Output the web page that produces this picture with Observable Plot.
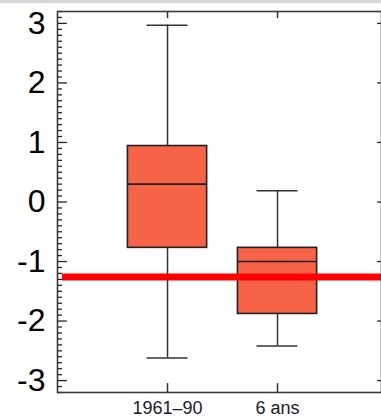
<!DOCTYPE html>
<html>
<head>
<meta charset="utf-8">
<script src="https://cdn.jsdelivr.net/npm/d3@7"></script>
<script src="https://cdn.jsdelivr.net/npm/@observablehq/plot@0.6"></script>
<style>
  html, body { margin: 0; padding: 0; background: #fff; overflow: hidden; }
  #wrap { position: relative; width: 381px; height: 418px; }
  #band { position: absolute; left: 0; top: 0; width: 381px; height: 3px; background: #d6d6d6; }
</style>
</head>
<body>
<div id="wrap"><div id="band"></div></div>
<script>
// Data
const categories = ["1961–90", "6 ans"];
const whiskerLow  = [-2.62, -2.42];
const q1          = [-0.77, -1.88];
const median      = [0.30, -1.00];
const q3          = [0.94, -0.77];
const whiskerHigh = [2.97, 0.19];
const referenceValue = -1.26;
const yTicks = [-3, -2, -1, 0, 1, 2, 3];
const yTickLabels = ["-3", "-2", "-1", "0", "1", "2", "3"];
const yMinorTicks = d3.range(-32, 33).map(i => i / 10).filter(v => Math.abs(v - Math.round(v)) > 1e-9);

const boxes = categories.map((c, i) => ({
  i: i + 1, cat: c,
  lo: whiskerLow[i], q1: q1[i], med: median[i], q3: q3[i], hi: whiskerHigh[i]
}));

const halfBox = 0.36;
const halfCap = 0.186;
const xMax = 2.945;
const majorLen = 0.09, minorLen = 0.045;

const chart = Plot.plot({
  width: 381,
  height: 418,
  marginLeft: 57,
  marginRight: 0,
  marginTop: 11,
  marginBottom: 26,
  style: { background: "transparent", fontFamily: "'Liberation Sans', Arial, sans-serif", overflow: "hidden" },
  x: { type: "linear", domain: [0, xMax], axis: null },
  y: { domain: [-3.2, 3.2], axis: null },
  marks: [
    // y minor / major ticks, left and right (inward)
    Plot.ruleY(yMinorTicks, { x1: 0, x2: minorLen, stroke: "#222", strokeWidth: 1.3 }),
    Plot.ruleY(yTicks, { x1: 0, x2: majorLen, stroke: "#222", strokeWidth: 1.3 }),
    Plot.ruleY(yTicks, { x1: 3 - majorLen, x2: 3, stroke: "#222", strokeWidth: 1.3 }),
    // x ticks top and bottom
    Plot.ruleX(boxes, { x: "i", y1: 3.2, y2: 3.2 - 0.12, stroke: "#333", strokeWidth: 1.5 }),
    Plot.ruleX(boxes, { x: "i", y1: -3.2, y2: -3.2 + 0.15, stroke: "#333", strokeWidth: 1.5 }),
    // whiskers
    Plot.ruleX(boxes, { x: "i", y1: "lo", y2: "q1", stroke: "#333", strokeWidth: 1.5 }),
    Plot.ruleX(boxes, { x: "i", y1: "q3", y2: "hi", stroke: "#333", strokeWidth: 1.5 }),
    Plot.ruleY(boxes, { y: "lo", x1: d => d.i - halfCap, x2: d => d.i + halfCap, stroke: "#333", strokeWidth: 1.5 }),
    Plot.ruleY(boxes, { y: "hi", x1: d => d.i - halfCap, x2: d => d.i + halfCap, stroke: "#333", strokeWidth: 1.5 }),
    // boxes
    Plot.rect(boxes, { x1: d => d.i - halfBox, x2: d => d.i + halfBox, y1: "q1", y2: "q3", fill: "#f76346", stroke: "#222", strokeWidth: 1.6 }),
    Plot.ruleY(boxes, { y: "med", x1: d => d.i - halfBox, x2: d => d.i + halfBox, stroke: "#222", strokeWidth: 1.6 }),
    // reference line
    Plot.ruleY([referenceValue], { x1: 0.045, x2: 3, stroke: "#ff0000", strokeWidth: 7 }),
    // frame
    Plot.frame({ stroke: "#3a3a3a", strokeWidth: 1.6 }),
    // axes labels
    Plot.axisY(yTicks, { anchor: "left", label: null, tickSize: 0, tickPadding: 12, fontSize: 32, fill: "#000", tickFormat: v => yTickLabels[yTicks.indexOf(v)] }),
    Plot.axisX([1, 2], { anchor: "bottom", label: null, tickSize: 0, tickPadding: 9, fontSize: 18, fill: "#1a1a2a", tickFormat: v => categories[v - 1] })
  ]
});
chart.style.position = "absolute";
chart.style.left = "0";
chart.style.top = "0";
document.getElementById("wrap").appendChild(chart);
document.getElementById("wrap").appendChild(document.getElementById("band"));
</script>
</body>
</html>
